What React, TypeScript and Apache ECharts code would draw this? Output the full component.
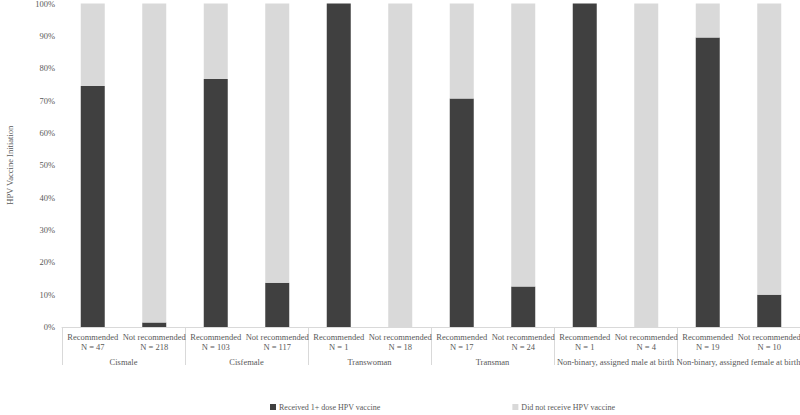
import React, { useEffect, useRef } from "react";
import * as echarts from "echarts";

const recLabels = [
  "Recommended\nN = 47", "Not recommended\nN = 218",
  "Recommended\nN = 103", "Not recommended\nN = 117",
  "Recommended\nN = 1", "Not recommended\nN = 18",
  "Recommended\nN = 17", "Not recommended\nN = 24",
  "Recommended\nN = 1", "Not recommended\nN = 4",
  "Recommended\nN = 19", "Not recommended\nN = 10",
];
const groups = [
  "Cismale", "Cisfemale", "Transwoman", "Transman",
  "Non-binary, assigned male at birth", "Non-binary, assigned female at birth",
];
const received = [74.5, 1.4, 76.7, 13.7, 100, 0, 70.6, 12.5, 100, 0, 89.5, 10];
const notReceived = received.map((v) => +(100 - v).toFixed(1));

const FONT = "'Liberation Serif', 'Times New Roman', serif";
const TXT = "#595959";
const FS = 8.5;

export default function App() {
  const ref = useRef<HTMLDivElement>(null);
  useEffect(() => {
    if (!ref.current) return;
    const chart = echarts.init(ref.current, undefined, { renderer: "svg" });
    chart.setOption({
      animation: false,
      textStyle: { fontFamily: FONT, color: TXT },
      grid: { left: 62, right: 0, top: 3.5, bottom: 88, outerBoundsMode: "none", containLabel: false },
      legend: {
        bottom: -1,
        left: 265,
        itemWidth: 6,
        itemHeight: 6,
        itemGap: 132,
        icon: "rect",
        textStyle: { fontFamily: FONT, fontSize: 8, color: TXT, padding: [0, 0, 0, -2] },
        data: ["Received 1+ dose HPV vaccine", "Did not receive HPV vaccine"],
      },
      xAxis: [
        {
          type: "category",
          data: recLabels,
          axisLine: { show: true, lineStyle: { color: "#d9d9d9" } },
          axisTick: { show: false },
          axisLabel: {
            interval: 0,
            fontFamily: FONT,
            fontSize: FS,
            lineHeight: 10,
            margin: 5,
            color: TXT,
          },
        },
        {
          type: "category",
          data: groups,
          position: "bottom",
          axisLine: { show: false },
          axisTick: { show: true, length: 38, lineStyle: { color: "#d9d9d9" } },
          axisLabel: {
            interval: 0,
            fontFamily: FONT,
            fontSize: FS,
            margin: 30,
            color: TXT,
          },
        },
      ],
      yAxis: {
        type: "value",
        min: 0,
        max: 100,
        interval: 10,
        name: "HPV Vaccine Initiation",
        nameLocation: "middle",
        nameGap: 48,
        nameTextStyle: { fontFamily: FONT, fontSize: FS, color: TXT },
        axisLine: { show: false },
        axisTick: { show: false },
        splitLine: { show: false },
        axisLabel: {
          formatter: "{value}%",
          fontFamily: FONT,
          fontSize: FS,
          margin: 7,
          color: TXT,
        },
      },
      series: [
        {
          name: "Received 1+ dose HPV vaccine",
          type: "bar",
          stack: "total",
          barWidth: 24,
          xAxisIndex: 0,
          itemStyle: { color: "#404040" },
          data: received,
        },
        {
          name: "Did not receive HPV vaccine",
          type: "bar",
          stack: "total",
          barWidth: 24,
          xAxisIndex: 0,
          itemStyle: { color: "#d9d9d9" },
          data: notReceived,
        },
      ],
    });
    return () => chart.dispose();
  }, []);
  return (
    <div
      ref={ref}
      style={{ position: "absolute", left: 0, top: 0, width: 800, height: 415, background: "#fff" }}
    />
  );
}
